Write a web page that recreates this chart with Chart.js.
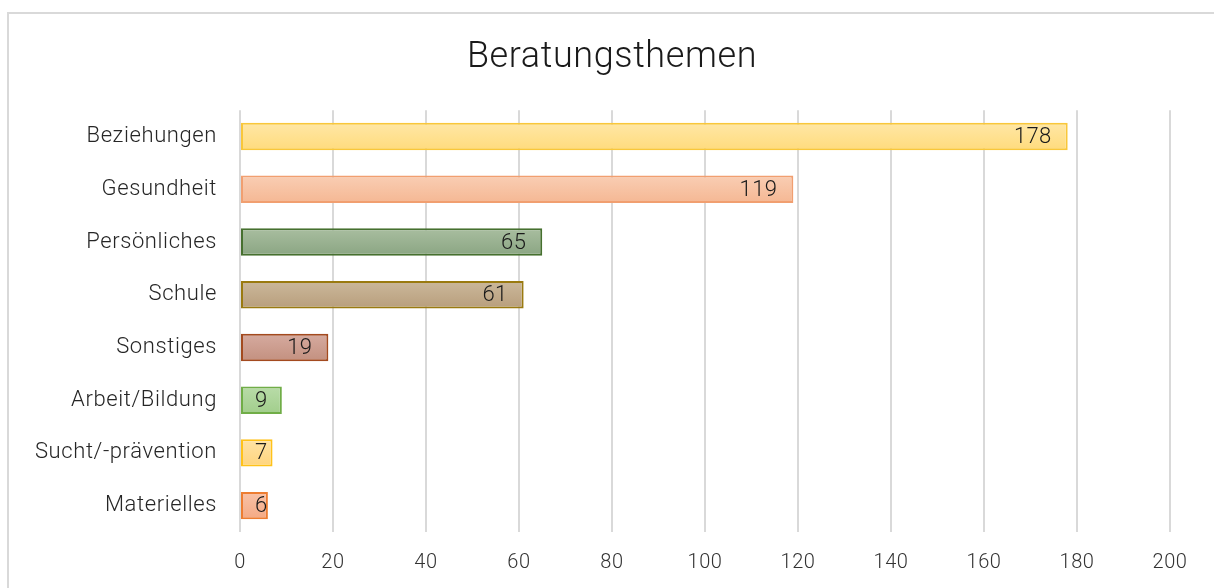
<!DOCTYPE html>
<html>
<head>
<meta charset="utf-8">
<script src="https://cdn.jsdelivr.net/npm/chart.js@4.4.1/dist/chart.umd.min.js"></script>
<style>
html,body{margin:0;padding:0;background:#fff;}
#wrap{position:relative;width:1214px;height:588px;overflow:hidden;}
#frame{position:absolute;left:7px;top:12px;width:1300px;height:700px;border-left:2px solid #d9d9d9;border-top:2px solid #d9d9d9;box-sizing:border-box;}
canvas{position:absolute;left:0;top:0;}
</style>
</head>
<body>
<div id="wrap"><div id="frame"></div><canvas id="c" width="1214" height="594"></canvas></div>
<script>
const titleText = "Beratungsthemen";
const categories = ["Beziehungen","Gesundheit","Persönliches","Schule","Sonstiges","Arbeit/Bildung","Sucht/-prävention","Materielles"];
const values = [178,119,65,61,19,9,7,6];
const xTicks = [0,20,40,60,80,100,120,140,160,180,200];
const fillTop = ["#ffe7a6","#f9ceb4","#a9bea0","#cbb89b","#d6aba0","#b9dca9","#ffe3a6","#f9c3a8"];
const fillBottom = ["#ffdb7c","#f5b793","#8aa582","#b89e7c","#c3907f","#a1ce8b","#ffd47c","#f4a983"];
const borderColors = ["#f9c73a","#f19f70","#46702f","#9a7a10","#a34a1f","#70ad47","#ffc21a","#ed7d31"];

const FONT = "Roboto";

const spacingPlugin = {
  id: 'spacing',
  beforeDraw(chart) { chart.ctx.letterSpacing = "0.6px"; }
};

const labelPlugin = {
  id: 'barLabels',
  afterDatasetsDraw(chart) {
    const ctx = chart.ctx;
    const meta = chart.getDatasetMeta(0);
    ctx.save();
    ctx.letterSpacing = "0.4px";
    ctx.font = "300 22px " + FONT;
    ctx.fillStyle = "#1a1a1a";
    ctx.textAlign = "right";
    ctx.textBaseline = "middle";
    meta.data.forEach((bar, i) => {
      const txt = String(values[i]);
      const w = ctx.measureText(txt).width;
      let xr = bar.x - 16;
      const minR = bar.base + 14 + w;
      if (xr < minR) xr = minR;
      ctx.fillText(txt, xr, bar.y + 1);
    });
    ctx.restore();
  }
};

new Chart(document.getElementById('c'), {
  type: 'bar',
  data: {
    labels: categories,
    datasets: [{
      data: values,
      backgroundColor: (context) => {
        const chart = context.chart;
        const i = context.dataIndex;
        const ys = chart.scales && chart.scales.y;
        if (!ys || i === undefined || !isFinite(ys.getPixelForValue(i))) return fillTop[i] || fillTop[0];
        const yc = ys.getPixelForValue(i);
        const g = chart.ctx.createLinearGradient(0, yc - 14, 0, yc + 14);
        g.addColorStop(0, fillTop[i]);
        g.addColorStop(1, fillBottom[i]);
        return g;
      },
      borderColor: borderColors,
      borderWidth: 2,
      borderSkipped: false,
      categoryPercentage: 1,
      barPercentage: 0.52
    }]
  },
  options: {
    indexAxis: 'y',
    responsive: false,
    animation: false,
    devicePixelRatio: 1,
    layout: { padding: { left: 10, right: 0, top: 20, bottom: 0 } },
    plugins: {
      legend: { display: false },
      tooltip: { enabled: false },
      title: {
        display: true,
        text: titleText,
        color: "#1a1a1a",
        font: { family: FONT, size: 36, weight: 300 },
        padding: { top: 16, bottom: 31 }
      }
    },
    scales: {
      x: {
        min: 0, max: 200,
        afterBuildTicks: (scale) => { scale.ticks = xTicks.map(v => ({ value: v })); },
        grid: { color: "#d9d9d9", lineWidth: 2, drawTicks: false },
        border: { display: false },
        ticks: { color: "#333", font: { family: FONT, size: 20, weight: 300 }, padding: 19, maxRotation: 0 }
      },
      y: {
        grid: { display: false, drawTicks: false },
        border: { display: false },
        afterFit: (scale) => { scale.width = 230; },
        ticks: { color: "#262626", font: { family: FONT, size: 22, weight: 300 }, padding: 23 }
      },
      y2: {
        position: 'right',
        grid: { display: false, drawTicks: false },
        border: { display: false },
        ticks: { display: false },
        afterFit: (scale) => { scale.width = 44; }
      }
    }
  },
  plugins: [spacingPlugin, labelPlugin]
});
</script>
</body>
</html>
